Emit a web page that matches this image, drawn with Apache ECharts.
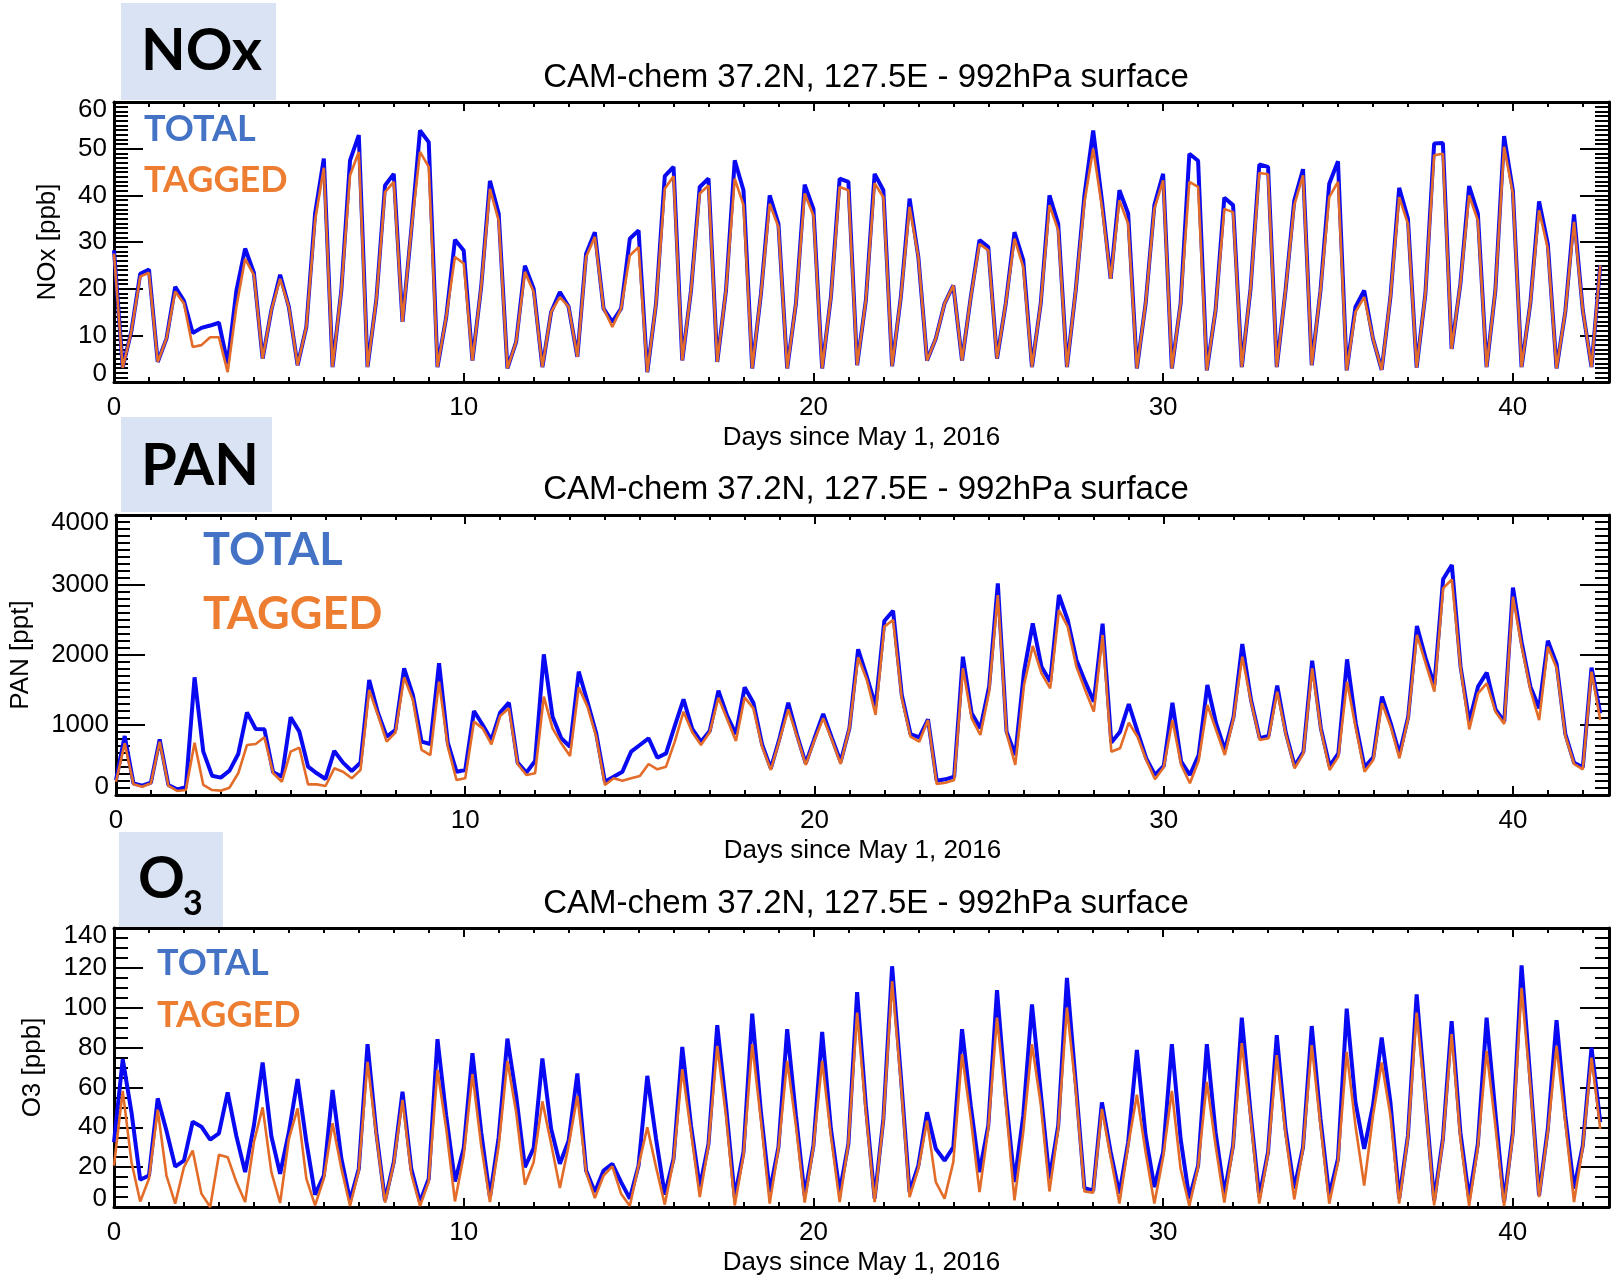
<!DOCTYPE html>
<html>
<head>
<meta charset="utf-8">
<script src="https://cdn.jsdelivr.net/npm/echarts@6/dist/echarts.min.js"></script>
<style>
html,body{margin:0;padding:0;background:#ffffff;}
#chart{width:1612px;height:1277px;}
</style>
</head>
<body>
<div id="chart"></div>
<script>
// 6-hourly model output, days since May 1, 2016
const STEP_DAYS = 0.25;
const X_MIN = 0, X_MAX = 42.75, X_INTERVAL = 10;

const TITLE_TEXT = 'CAM-chem 37.2N, 127.5E - 992hPa surface';
const X_NAME = 'Days since May 1, 2016';
const PANEL_LABELS = ['NOx', 'PAN', 'O'];
const Y_NAMES = ['NOx [ppb]', 'PAN [ppt]', 'O3 [ppb]'];
const Y_RANGES = [[0, 60, 10, 10], [0, 4000, 1000, 10], [0, 140, 20, 4]]; // min, max, interval, minor splits

const noxTotal = [28.2,3.2,11,23.2,24.1,4.3,9.3,20.4,17.4,10.5,
11.6,12.1,12.7,3.9,19.6,28.6,23.4,5.0,15.4,23.0,
16.1,3.6,11.8,36.1,47.9,3.2,19.6,47.5,52.9,3.2,
17.5,42.1,44.6,12.9,32.5,53.9,51.4,3.2,13.9,30.5,
28.2,4.6,20.4,43.1,36.1,2.9,8.6,24.9,20.0,3.2,
15.0,19.3,16.1,5.4,27.5,32.1,15.7,12.9,15.7,30.7,
32.5,2.1,16.8,44.1,46.1,4.6,19.6,41.8,43.6,4.3,
19.6,47.5,41.1,2.9,18.9,40.0,33.9,2.9,16.8,42.3,
37.1,2.9,18.2,43.6,42.9,3.6,17.5,44.6,41.1,3.4,
18.2,39.3,26.8,4.6,9.3,16.8,20.7,4.6,18.2,30.4,
28.9,5.0,16.8,32.1,26.1,3.2,16.8,40.0,33.9,3.2,
19.6,40,53.9,38.9,22.1,41.1,36.1,2.9,16.8,37.9,
44.6,2.9,16.8,48.9,47.4,2.5,15.4,39.5,37.9,3.2,
20,46.6,46.1,3.2,19.6,38.9,45.6,3.6,19.6,42.5,
47.3,2.5,16.1,19.6,9.3,2.6,18.2,41.6,35.0,3.1,
18.9,51.1,51.2,7.1,21,42.0,36.1,3.2,19.6,52.7,
41.1,3.2,16.8,38.7,29.6,2.9,15.0,35.9,15.4,3.2,
25];

const noxTagged = [27.5,3.0,11,22.6,23.4,4.3,9.3,19.4,16.8,7.5,
7.9,9.6,9.6,2.1,16.1,26.4,22.9,5.0,15.4,22.1,
16.1,3.6,11.8,34.6,45.9,3.2,19.6,44.3,49.3,3.2,
17.5,40.7,42.9,12.9,32.5,49.3,46.1,3.2,13.9,26.8,
25.4,4.6,20.4,41.4,34.6,2.9,8.6,23.6,19.3,3.2,
15.0,18.2,16.1,5.4,26.8,31.1,15.7,11.8,15.7,27.1,
28.9,2.1,16.8,41.4,44.1,4.6,19.6,40.4,42.1,4.3,
19.6,43.6,37.9,2.9,18.9,38.2,33.2,2.9,16.8,40.4,
35.7,2.9,18.2,41.8,41.1,3.6,17.5,42.6,39.6,3.4,
18.2,37.5,26.8,4.6,9.3,16.8,20.7,4.6,18.2,29.6,
28.2,5.0,16.8,30.7,24.6,3.2,16.8,37.9,32.5,3.2,
19.6,38.5,50.0,37.5,22.1,38.9,33.9,2.9,16.8,37.1,
43.2,2.9,16.8,42.9,41.8,2.5,15.4,37.1,36.4,3.2,
20,44.8,44.5,3.2,19.6,37.9,44.3,3.6,19.6,39.6,
42.9,2.5,15.0,18.2,9.3,2.6,18.2,39.6,33.9,3.1,
18.9,48.6,48.9,7.1,21,40.0,34.6,3.2,19.6,50.4,
40.4,3.2,16.8,36.8,28.6,2.9,15.0,34.3,15.4,3.2,
25];

const panTotal = [214,843,167,133,176,795,143,81,110,1681,
619,276,248,348,586,1181,943,938,324,262,
1110,905,405,310,229,629,462,343,462,1643,
1176,833,929,1810,1429,762,729,1881,748,333,
357,1200,1000,786,1176,1319,462,319,486,2010,
1119,810,690,1762,1333,881,190,262,333,619,
714,810,533,595,986,1367,943,762,914,1490,
1129,871,1538,1319,724,381,810,1319,857,452,
810,1157,810,476,952,2081,1690,1271,2486,2633,
1429,871,824,1081,205,224,262,1976,1167,952,
1548,3024,905,571,1762,2452,1833,1619,2857,2500,
1929,1619,1333,2448,750,905,1300,905,524,286,
414,1319,476,286,571,1571,1024,643,1119,2157,
1357,810,843,1562,881,414,619,1919,952,414,
595,1938,1024,395,538,1405,1024,586,1119,2414,
1952,1571,3081,3286,1833,1048,1548,1748,1224,1048,
2962,2176,1548,1238,2205,1871,871,462,395,1819,
1167];

const panTagged = [190,738,152,119,167,762,133,57,71,748,
143,71,62,105,310,714,729,824,310,190,
619,676,152,152,129,381,333,238,357,1500,
1143,762,890,1681,1357,643,571,1619,690,214,
238,1048,952,724,1129,1238,443,286,310,1405,
952,738,557,1538,1262,833,143,238,205,238,
271,443,367,405,762,1190,895,714,895,1390,
1081,771,1395,1238,690,357,786,1224,833,429,
786,1095,786,443,952,1967,1643,1143,2405,2500,
1381,833,762,1071,157,176,214,1810,1095,857,
1476,2857,881,429,1571,2129,1738,1524,2643,2405,
1833,1500,1190,2286,619,667,1033,833,500,224,
395,1071,429,167,490,1286,929,571,1095,1976,
1333,786,810,1476,857,381,595,1810,929,357,
548,1619,952,333,500,1310,976,524,1095,2286,
1881,1476,2952,3081,1810,938,1452,1595,1190,1014,
2833,2119,1500,1071,2119,1810,843,443,367,1762,
1071];

const o3Total = [32.5,74.2,47.5,13.7,15.8,54.5,38.3,20.3,23.3,42.8,
40.3,33.8,37,57.5,35.5,17.5,40.8,72.5,35.5,16.7,
37.5,64.2,32.8,6.2,15.8,58.7,24.5,3.3,19.2,81.7,
37.5,3.3,22.5,57.8,19.2,2.5,14.2,84.2,45.8,12.8,
29.5,77.2,37.5,5,35,84.5,55.8,20,29.5,74.5,
39.2,21.7,33.3,67,18.3,7.5,18.3,21.7,12.5,4.2,
20.8,65.8,34.2,6.2,24.2,80.3,40.8,10,31.7,91.2,
50.8,5,27.5,97,47.5,7.5,30,89.2,45.8,5.8,
30.8,87.8,39.2,7.5,31.7,107.8,50.8,4.2,44.2,120.8,
65.8,7.5,20.8,47.5,29.2,23.3,30,89.2,50.8,17.5,
40.8,108.8,55.8,12.5,45.8,101.7,57.5,14.2,40.8,115,
62.5,9.5,8.3,52.5,27.5,6.7,32.5,78.8,35.8,10,
27.5,81.7,34.2,4.2,20.8,81.7,37.5,6.7,30.8,95,
47.5,5,27.5,86.2,39.2,9.2,30,90.8,44.2,5.8,
24.2,99.5,52.5,29.2,50.8,85,52.5,4.2,35.8,106.7,
54.2,3.3,34.2,93.3,37.5,4.2,31.7,95,47.5,2.5,
37.5,121.2,64.2,5.8,39.2,93.8,45.8,9.2,30.8,80,
42.5];

const o3Tagged = [20.8,58.3,22.5,2.8,14.2,48.8,15.8,1.7,20,28.3,
6.7,0,26.2,25,12.5,2.5,32.5,50,17.5,2,
34.2,49.5,14.2,0.8,14.2,42,19.5,0.5,18.3,72.8,
35.8,2.2,21.7,53.7,16.7,0.5,12.8,68.8,39.2,2.8,
25.8,66.7,30.8,2.5,30.8,73.3,47.5,11.2,22.5,53,
31.7,9.5,30.8,55.8,17.5,4.5,15.8,20.4,6.7,0.5,
20.8,40,20,1.2,23.3,69.2,37.5,5,30.8,80.8,
45.8,0.8,25.8,81.7,43.3,1.7,29.2,73.3,40.8,2.2,
30,73.3,35.8,2.5,31.7,97.5,47.5,2.5,43.3,113.3,
62.5,5,19.2,43.3,12.5,4.2,22.5,76.7,44.2,7.5,
39.2,95,51.7,3.3,37.5,81.7,51.7,7.8,39.2,100,
59.2,7.8,7.2,49.2,25,1.7,30.8,56.3,27.5,1.7,
25,58.3,19.2,0.5,20,62.8,30.8,2.2,30,82.2,
45,1.7,26.7,76.2,36.7,3.8,29.2,81.2,40.8,1.7,
22.5,77.8,40.8,10.8,45.8,72.5,45.8,1.7,35,97.5,
52.5,0.8,33.3,86.7,34.2,0.5,30,78.3,40.8,0.5,
35.8,110,60.8,5,37.5,80.8,42.5,2.5,30,75,
39.2];

const TOTALS = [noxTotal, panTotal, o3Total];
const TAGGEDS = [noxTagged, panTagged, o3Tagged];

// ---------- layout / style ----------
const GRID_LEFT = 114, GRID_W = 1502, GRID_H = 280;
const GRID_TOPS = [102, 515, 928];
const Y_NAME_GAPS = [53, 82, 68];
const AX_FONT = '"Liberation Sans", Arial, Helvetica, sans-serif';
const LEG_FONT = 'Lato, "Open Sans", sans-serif';
const BLUE = '#0a0af2', ORANGE = '#e36c29';

function toXY(arr) { return arr.map((v, i) => [i * STEP_DAYS, v]); }

const axisLineStyle = { color: '#000', width: 3 };
const tickLine = { color: '#000', width: 2 };

const grids = [], xAxes = [], yAxes = [], series = [];
GRID_TOPS.forEach((top, k) => {
  grids.push({ left: GRID_LEFT, top: top, width: GRID_W, height: GRID_H, containLabel: false });
  const [ymin, ymax, yint, ysplit] = Y_RANGES[k];
  ['bottom', 'top'].forEach((pos) => {
    xAxes.push({
      type: 'value', gridIndex: k, position: pos, min: X_MIN, max: X_MAX, interval: X_INTERVAL,
      axisLine: { show: true, onZero: false, lineStyle: axisLineStyle },
      axisTick: { show: true, inside: true, length: 9, lineStyle: tickLine },
      minorTick: { show: true, splitNumber: 10, length: 5, lineStyle: tickLine },
      splitLine: { show: false }, minorSplitLine: { show: false },
      axisLabel: pos === 'bottom' ? {
        show: true, margin: 13, color: '#000', fontSize: 26, fontFamily: AX_FONT,
        formatter: (v) => (Math.abs(v % X_INTERVAL) < 1e-9 ? String(v) : '')
      } : { show: false },
      name: pos === 'bottom' ? X_NAME : '',
      nameLocation: 'middle', nameGap: 43,
      nameTextStyle: { color: '#000', fontSize: 26, fontFamily: AX_FONT }
    });
  });
  ['left', 'right'].forEach((pos) => {
    yAxes.push({
      type: 'value', gridIndex: k, position: pos, min: ymin, max: ymax, interval: yint,
      axisLine: { show: true, onZero: false, lineStyle: axisLineStyle },
      axisTick: { show: true, inside: true, length: 29, lineStyle: tickLine },
      minorTick: { show: true, splitNumber: ysplit, length: 14, lineStyle: tickLine },
      splitLine: { show: false }, minorSplitLine: { show: false },
      axisLabel: pos === 'left' ? {
        show: true, margin: 7, color: '#000', fontSize: 26, fontFamily: AX_FONT, lineHeight: 16,
        verticalAlignMinLabel: 'bottom', verticalAlignMaxLabel: 'top',
        formatter: (v) => String(v)
      } : { show: false },
      name: pos === 'left' ? Y_NAMES[k] : '',
      nameLocation: 'middle', nameGap: Y_NAME_GAPS[k],
      nameTextStyle: { color: '#000', fontSize: 26, fontFamily: AX_FONT }
    });
  });
  series.push({
    name: 'TOTAL ' + k, type: 'line', xAxisIndex: 2 * k, yAxisIndex: 2 * k,
    data: toXY(TOTALS[k]), showSymbol: false, symbol: 'none', clip: true, z: 2,
    lineStyle: { color: BLUE, width: 4 }, itemStyle: { color: BLUE }
  });
  series.push({
    name: 'TAGGED ' + k, type: 'line', xAxisIndex: 2 * k, yAxisIndex: 2 * k,
    data: toXY(TAGGEDS[k]), showSymbol: false, symbol: 'none', clip: true, z: 3,
    lineStyle: { color: ORANGE, width: 2.6 }, itemStyle: { color: ORANGE }
  });
});

// overlay annotations (labels, titles, legend words)
const BOXES = [[121, 3, 155, 97], [121, 417, 151, 95], [119, 832, 104, 95]];
const TITLE_Y = [78, 490, 904];
const LEGEND = [
  { x: 144, y1: 129, y2: 180, size: 36 },
  { x: 203, y1: 550, y2: 614, size: 45 },
  { x: 157, y1: 963, y2: 1015, size: 36 }
];
const graphic = [];
BOXES.forEach((b, k) => {
  graphic.push({ type: 'rect', z: -10, shape: { x: b[0], y: b[1], width: b[2], height: b[3] }, style: { fill: '#dae3f3' } });
  graphic.push({ type: 'text', x: 866, y: TITLE_Y[k], z: 10,
    style: { text: TITLE_TEXT, align: 'center', verticalAlign: 'middle', font: '33px ' + AX_FONT, fill: '#000' } });
  const L = LEGEND[k];
  graphic.push({ type: 'text', x: L.x, y: L.y1, z: 10,
    style: { text: 'TOTAL', align: 'left', verticalAlign: 'middle', font: 'bold ' + L.size + 'px ' + LEG_FONT, fill: '#4472c4' } });
  graphic.push({ type: 'text', x: L.x, y: L.y2, z: 10,
    style: { text: 'TAGGED', align: 'left', verticalAlign: 'middle', font: 'bold ' + L.size + 'px ' + LEG_FONT, fill: '#ed7d31' } });
});
graphic.push({ type: 'text', x: 141, y: 51, z: 10, style: { text: PANEL_LABELS[0], align: 'left', verticalAlign: 'middle', font: 'bold 58px ' + LEG_FONT, fill: '#000' } });
graphic.push({ type: 'text', x: 141, y: 466, z: 10, style: { text: PANEL_LABELS[1], align: 'left', verticalAlign: 'middle', font: 'bold 58px ' + LEG_FONT, fill: '#000' } });
graphic.push({ type: 'text', x: 138, y: 879, z: 10, style: { text: PANEL_LABELS[2], align: 'left', verticalAlign: 'middle', font: 'bold 58px ' + LEG_FONT, fill: '#000' } });
graphic.push({ type: 'text', x: 183, y: 904, z: 10, style: { text: '3', align: 'left', verticalAlign: 'middle', font: 'bold 34px ' + LEG_FONT, fill: '#000' } });

const chart = echarts.init(document.getElementById('chart'), null, { renderer: 'canvas' });
chart.setOption({
  animation: false,
  backgroundColor: '#ffffff',
  grid: grids,
  xAxis: xAxes,
  yAxis: yAxes,
  series: series,
  graphic: graphic
});
</script>
</body>
</html>
